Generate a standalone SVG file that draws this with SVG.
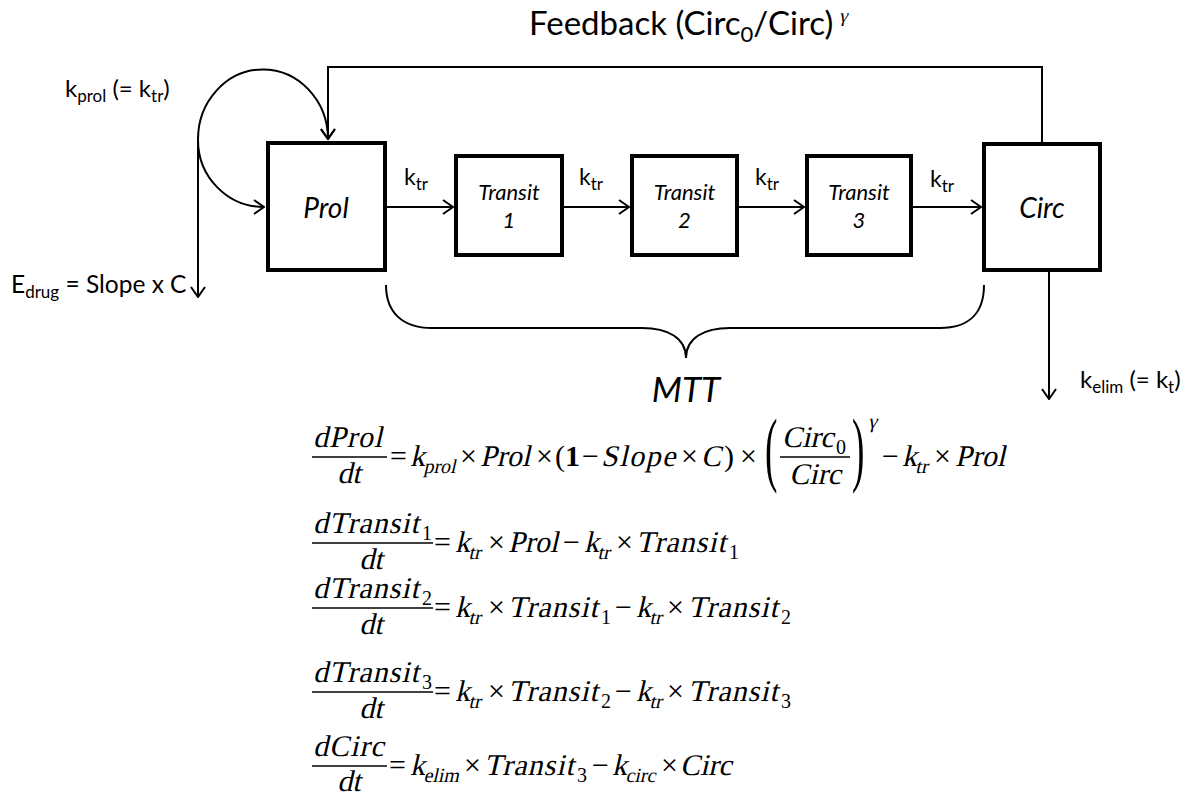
<svg xmlns="http://www.w3.org/2000/svg" width="1189" height="796" viewBox="0 0 1189 796">
<style>
.box{fill:#fff;stroke:#000;stroke-width:4}
.conn{fill:none;stroke:#000;stroke-width:2}
.fl{fill:none;stroke:#000;stroke-width:1.3}
.lbl{font-family:Lato,"Open Sans","Liberation Sans",sans-serif;fill:#000}
.it{font-style:italic}
.eq{font-family:"Liberation Serif","Times New Roman",serif;font-size:30px;font-style:normal;fill:#000}
.sb{font-size:20px}
.ts{letter-spacing:1px}
</style>
<defs>
<marker id="ah" viewBox="0 0 12 16" refX="11" refY="8" markerWidth="12" markerHeight="16" orient="auto" markerUnits="userSpaceOnUse">
<path d="M1,1 L11,8 L1,15" fill="none" stroke="#000" stroke-width="2"/>
</marker>
</defs>
<rect width="1189" height="796" fill="#fff"/>

<g id="title">
<text class="lbl" x="529" y="35" font-size="33">Feedback (Circ<tspan font-size="22" dy="7">0</tspan><tspan dy="-7">/Circ)</tspan></text>
<g transform="translate(0,22) skewX(-13)"><text x="839" y="0" font-family="Liberation Serif,serif" font-size="19">γ</text></g>
</g>

<g id="connectors">
<path class="conn" d="M1042,142 V67 H328 V139" marker-end="url(#ah)"/>
<path class="conn" d="M198,140 A65,70 0 0 1 328,139" marker-end="url(#ah)"/>
<path class="conn" d="M198,140 A66,67 0 0 0 264,207" marker-end="url(#ah)"/>
<path class="conn" d="M198,140 V297" marker-end="url(#ah)"/>
<path class="conn" d="M387,207 H453" marker-end="url(#ah)"/>
<path class="conn" d="M564,207 H629" marker-end="url(#ah)"/>
<path class="conn" d="M739,207 H804" marker-end="url(#ah)"/>
<path class="conn" d="M913,207 H981" marker-end="url(#ah)"/>
<path class="conn" d="M1049,272 V399" marker-end="url(#ah)"/>
<path class="conn" d="M386,285 C386,312 402,328 432,328 H642 C668,328 686,338 686,358 C686,338 704,328 730,328 H940 C970,328 984,312 984,285"/>
</g>

<g id="labels" class="lbl">
<text x="65" y="97" font-size="24">k<tspan font-size="17" dy="5">prol</tspan><tspan dy="-5"> (= k</tspan><tspan font-size="17" dy="5">tr</tspan><tspan dy="-5">)</tspan></text>
<text x="11" y="293" font-size="24.5">E<tspan font-size="17" dy="5">drug</tspan><tspan dy="-5"> = Slope x C</tspan></text>
<text x="1080" y="388" font-size="24">k<tspan font-size="17" dy="5">elim</tspan><tspan dy="-5"> (= k</tspan><tspan font-size="17" dy="5">t</tspan><tspan dy="-5">)</tspan></text>
<text x="404" y="185" font-size="23">k<tspan font-size="17" dy="5">tr</tspan></text>
<text x="579" y="185" font-size="23">k<tspan font-size="17" dy="5">tr</tspan></text>
<text x="755" y="185" font-size="23">k<tspan font-size="17" dy="5">tr</tspan></text>
<text x="930" y="187" font-size="23">k<tspan font-size="17" dy="5">tr</tspan></text>
<text class="it" x="686" y="402" font-size="35" text-anchor="middle">MTT</text>
</g>

<g id="node-prol">
<rect class="box" x="268" y="143" width="117" height="127"/>
<text class="lbl it" x="326" y="218" font-size="28" text-anchor="middle">Prol</text>
</g>
<g id="node-transit1">
<rect class="box" x="456" y="156" width="106" height="99"/>
<text class="lbl it" x="509" y="200" font-size="22" text-anchor="middle">Transit</text>
<text class="lbl it" x="509" y="228" font-size="22" text-anchor="middle">1</text>
</g>
<g id="node-transit2">
<rect class="box" x="632" y="156" width="105" height="99"/>
<text class="lbl it" x="684.5" y="200" font-size="22" text-anchor="middle">Transit</text>
<text class="lbl it" x="684.5" y="228" font-size="22" text-anchor="middle">2</text>
</g>
<g id="node-transit3">
<rect class="box" x="807" y="156" width="104" height="99"/>
<text class="lbl it" x="859" y="200" font-size="22" text-anchor="middle">Transit</text>
<text class="lbl it" x="859" y="228" font-size="22" text-anchor="middle">3</text>
</g>
<g id="node-circ">
<rect class="box" x="984" y="144" width="116" height="126"/>
<text class="lbl it" x="1042" y="218" font-size="28" text-anchor="middle">Circ</text>
</g>

<g id="equations" class="eq">
<!-- eq1 -->
<g transform="translate(0,447) skewX(-13)"><text x="313" y="0" letter-spacing="1">dProl</text><text x="782" y="0">Circ</text></g>
<line class="fl" x1="312" y1="457" x2="387" y2="457"/>
<g transform="translate(0,483) skewX(-13)"><text x="349" y="0" text-anchor="middle">dt</text></g>
<g transform="translate(0,484) skewX(-13)"><text x="815" y="0" text-anchor="middle">Circ</text></g>
<g transform="translate(0,466) skewX(-13)"><text y="0"><tspan x="410" y="0">k</tspan><tspan class="sb" x="425" y="7">prol</tspan><tspan x="480" y="0">Prol</tspan><tspan x="601" y="0" letter-spacing="1.5">Slope</tspan><tspan x="701" y="0">C</tspan><tspan x="902" y="0">k</tspan><tspan class="sb" x="917" y="7">tr</tspan><tspan x="955" y="0">Prol</tspan></text></g>
<text y="466"><tspan x="390">=</tspan><tspan x="460">×</tspan><tspan x="536">×</tspan><tspan x="555">(</tspan><tspan font-weight="bold" x="565">1</tspan><tspan x="582">−</tspan><tspan x="681">×</tspan><tspan x="724">)</tspan><tspan x="740">×</tspan><tspan x="882">−</tspan><tspan x="934">×</tspan></text>
<text class="sb" x="836" y="454">0</text>
<line class="fl" x1="780" y1="457" x2="850" y2="457"/>
<text font-size="83" transform="translate(765,476) scale(0.45,1)">(</text>
<text font-size="83" transform="translate(852,476) scale(0.45,1)">)</text>
<g transform="translate(0,428) skewX(-13)"><text class="sb" x="868" y="0">γ</text></g>

<!-- eq2 -->
<g transform="translate(0,533) skewX(-13)"><text x="313" y="0" letter-spacing="1">dTransit</text></g>
<text class="sb" x="422" y="540">1</text>
<line class="fl" x1="312" y1="543" x2="433" y2="543"/>
<g transform="translate(0,569) skewX(-13)"><text x="371" y="0" text-anchor="middle">dt</text></g>
<g transform="translate(0,552) skewX(-13)"><text y="0"><tspan x="455" y="0">k</tspan><tspan class="sb" x="470" y="7">tr</tspan><tspan x="508" y="0">Prol</tspan><tspan x="584" y="0">k</tspan><tspan class="sb" x="599" y="7">tr</tspan><tspan class="ts" x="636" y="0">Transit</tspan></text></g>
<text y="552"><tspan x="434">=</tspan><tspan x="488">×</tspan><tspan x="563">−</tspan><tspan x="616">×</tspan><tspan class="sb" x="729" y="559">1</tspan></text>

<!-- eq3 -->
<g transform="translate(0,598) skewX(-13)"><text x="313" y="0" letter-spacing="1">dTransit</text></g>
<text class="sb" x="422" y="605">2</text>
<line class="fl" x1="312" y1="608" x2="433" y2="608"/>
<g transform="translate(0,634) skewX(-13)"><text x="371" y="0" text-anchor="middle">dt</text></g>
<g transform="translate(0,617) skewX(-13)"><text y="0"><tspan x="455" y="0">k</tspan><tspan class="sb" x="470" y="7">tr</tspan><tspan class="ts" x="508" y="0">Transit</tspan><tspan x="636" y="0">k</tspan><tspan class="sb" x="651" y="7">tr</tspan><tspan class="ts" x="688" y="0">Transit</tspan></text></g>
<text y="617"><tspan x="434">=</tspan><tspan x="488">×</tspan><tspan class="sb" x="601" y="624">1</tspan><tspan x="615" y="617">−</tspan><tspan x="667">×</tspan><tspan class="sb" x="781" y="624">2</tspan></text>

<!-- eq4 -->
<g transform="translate(0,682) skewX(-13)"><text x="313" y="0" letter-spacing="1">dTransit</text></g>
<text class="sb" x="422" y="689">3</text>
<line class="fl" x1="312" y1="692" x2="433" y2="692"/>
<g transform="translate(0,718) skewX(-13)"><text x="371" y="0" text-anchor="middle">dt</text></g>
<g transform="translate(0,701) skewX(-13)"><text y="0"><tspan x="455" y="0">k</tspan><tspan class="sb" x="470" y="7">tr</tspan><tspan class="ts" x="508" y="0">Transit</tspan><tspan x="636" y="0">k</tspan><tspan class="sb" x="651" y="7">tr</tspan><tspan class="ts" x="688" y="0">Transit</tspan></text></g>
<text y="701"><tspan x="434">=</tspan><tspan x="488">×</tspan><tspan class="sb" x="601" y="708">2</tspan><tspan x="615" y="701">−</tspan><tspan x="667">×</tspan><tspan class="sb" x="781" y="708">3</tspan></text>

<!-- eq5 -->
<g transform="translate(0,756) skewX(-13)"><text x="313" y="0" letter-spacing="1">dCirc</text></g>
<line class="fl" x1="312" y1="766" x2="387" y2="766"/>
<g transform="translate(0,791) skewX(-13)"><text x="349" y="0" text-anchor="middle">dt</text></g>
<g transform="translate(0,775) skewX(-13)"><text y="0"><tspan x="410" y="0">k</tspan><tspan class="sb" x="425" y="7">elim</tspan><tspan class="ts" x="484" y="0">Transit</tspan><tspan x="612" y="0">k</tspan><tspan class="sb" x="627" y="7">circ</tspan><tspan x="680" y="0">Circ</tspan></text></g>
<text y="775"><tspan x="389">=</tspan><tspan x="464">×</tspan><tspan class="sb" x="577" y="782">3</tspan><tspan x="592" y="775">−</tspan><tspan x="661">×</tspan></text>
</g>
</svg>
